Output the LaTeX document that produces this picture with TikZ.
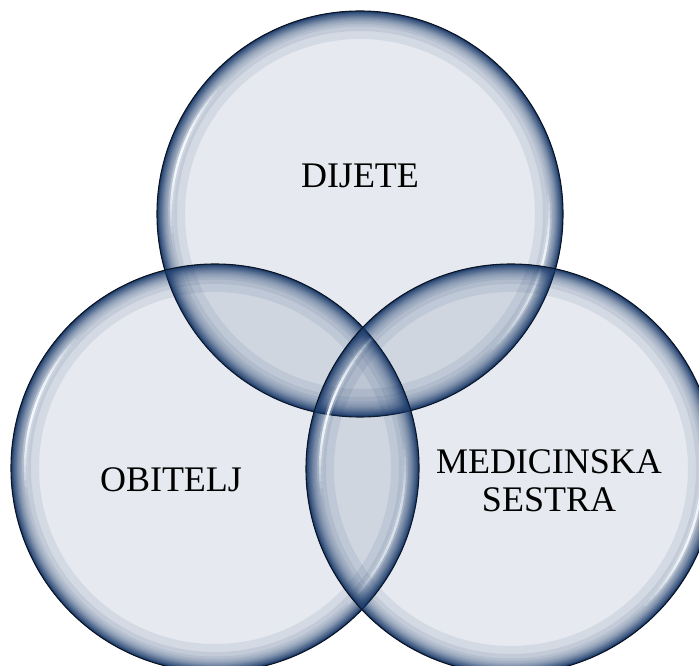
\documentclass[tikz,border=0pt]{standalone}
\usepackage{fontspec}
\setmainfont{Liberation Serif}
\definecolor{bubnavy}{RGB}{26,58,106}
\definecolor{rimline}{RGB}{10,20,36}
\definecolor{hilitec}{RGB}{248,252,255}
\tikzset{
  rim/.style={draw=rimline, line width=1.1pt},
  lbl/.style={font=\fontsize{36}{38}\selectfont, text=black, align=center, inner sep=0pt},
}
% #1 centre, #2 radius : translucent bubble body with darker rim
\newcommand\bubblebody[2]{%
  \fill[bubnavy, fill opacity=0.11] (#1) circle (#2);
  \foreach \w in {28,20,15.5,13,11,9.6,8.5,7.5,6.7,6.1,5.5,5.0,4.5,4.1,3.7,3.3,3.0,
                  2.7,2.5,2.3,2.15,2.0,1.85,1.7,1.6,1.5,1.4,1.3,1.2,1.1,1.0,0.9,0.8,0.7,0.6,0.5}{%
    \draw[bubnavy, draw opacity=0.09, line width=\w pt] (#1) circle ({#2-\w/2});
  }}
% #1 centre coordinate, #2 radius, #3 start angle, #4 end angle, #5 peak opacity
\newcommand\hilitearc[5]{%
  \foreach \i in {0,...,23}{%
    \pgfmathsetmacro\aa{#3+(#4-#3)*\i/24}%
    \pgfmathsetmacro\bb{#3+(#4-#3)*(\i+1)/24}%
    \pgfmathsetmacro\op{#5*sin(180*(\i+0.5)/24)}%
    \draw[shift={(#1)}, hilitec, line width=6pt, draw opacity=0.25*\op]
      (\aa:#2) arc[start angle=\aa, end angle=\bb, radius=#2];
    \draw[shift={(#1)}, hilitec, line width=2.4pt, draw opacity=\op]
      (\aa:#2) arc[start angle=\aa, end angle=\bb, radius=#2];
  }}
\begin{document}
\begin{tikzpicture}[x=1pt,y=1pt]
\useasboundingbox (0,0) rectangle (699,665);
\clip (0,0) rectangle (699,665);
\coordinate (ctop) at (360,451);
\coordinate (cleft) at (215,197);
\coordinate (cright) at (511,196);
% top circle
\bubblebody{ctop}{203}
\hilitearc{ctop}{189}{135}{188}{0.95}
\hilitearc{ctop}{189}{8}{-48}{0.9}
\draw[rim] (ctop) circle (203);
% left circle
\bubblebody{cleft}{204}
\hilitearc{cleft}{190}{135}{188}{0.95}
\hilitearc{cleft}{190}{8}{-48}{0.9}
\draw[rim] (cleft) circle (204);
% right circle
\bubblebody{cright}{205}
\hilitearc{cright}{191}{135}{188}{0.95}
\hilitearc{cright}{191}{8}{-48}{0.9}
\draw[rim] (cright) circle (205);
% labels
\node[lbl] (dijete) at (360,489) {DIJETE};
\node[lbl] (obitelj) at (171,185) {OBITELJ};
\node[lbl] (sestra) at (549,184) {MEDICINSKA\\SESTRA};
\end{tikzpicture}
\end{document}
